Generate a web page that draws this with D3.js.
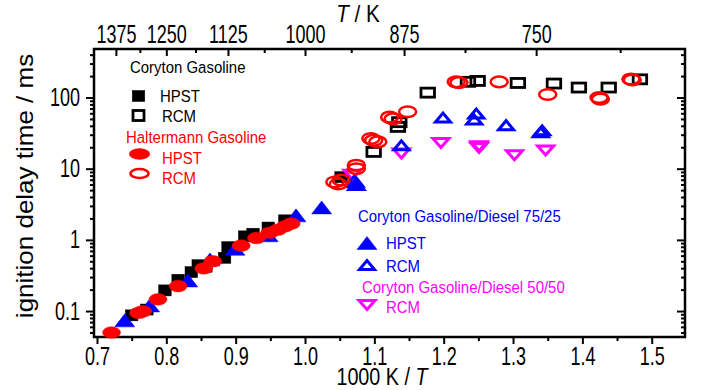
<!DOCTYPE html>
<html>
<head>
<meta charset="utf-8">
<script src="https://cdn.jsdelivr.net/npm/d3@7"></script>
<style>
  body { margin: 0; background: #fff; }
  svg { display: block; font-family: "Liberation Sans", Arial, sans-serif; }
</style>
</head>
<body>
<div id="chart"></div>
<script>
// data: [1000 K / T, ignition delay time (ms)]
const corytonHpst = [
  [0.750, 0.087], [0.772, 0.105], [0.798, 0.195], [0.817, 0.275], [0.836, 0.352],
  [0.846, 0.44], [0.857, 0.42], [0.884, 0.56], [0.889, 0.79], [0.913, 1.12],
  [0.925, 1.22], [0.947, 1.49], [0.971, 1.88], [1.052, 7.6]
];
const corytonRcm = [
  [1.099, 17.2], [1.134, 38.6], [1.136, 45], [1.177, 117], [1.235, 166],
  [1.249, 171], [1.307, 160], [1.359, 157], [1.395, 138], [1.438, 138], [1.483, 180]
];
const haltermannHpst = [
  [0.721, 0.050], [0.760, 0.094], [0.766, 0.099], [0.788, 0.146], [0.817, 0.224],
  [0.854, 0.397], [0.867, 0.50], [0.908, 0.83], [0.930, 1.06], [0.949, 1.26],
  [0.961, 1.39], [0.971, 1.55], [0.980, 1.69]
];
const haltermannRcm = [
  [1.043, 6.5], [1.052, 6.9], [1.048, 6.1], [1.074, 11.2], [1.074, 10.0],
  [1.095, 26.5], [1.099, 25], [1.105, 23.8], [1.122, 53], [1.127, 50],
  [1.148, 63], [1.218, 166], [1.222, 162], [1.280, 166], [1.350, 110],
  [1.424, 100], [1.426, 95], [1.470, 182], [1.472, 176]
];
const blend75Hpst = [
  [0.740, 0.074], [0.776, 0.12], [0.831, 0.269], [0.863, 0.53], [0.899, 0.75],
  [0.947, 1.16], [0.987, 2.21], [1.024, 2.86], [1.073, 6.6]
];
const blend75Rcm = [
  [1.074, 5.9], [1.071, 6.8], [1.139, 21.3], [1.199, 52.3], [1.247, 59.6],
  [1.244, 49], [1.290, 40.8], [1.342, 34.6], [1.340, 32.5]
];
const blend50Rcm = [
  [1.068, 8.2], [1.139, 16.3], [1.196, 23.0], [1.251, 20.6], [1.251, 19.5],
  [1.302, 15.4], [1.347, 18]
];

// tick labels
const xTicks = [0.7, 0.8, 0.9, 1.0, 1.1, 1.2, 1.3, 1.4, 1.5];
const xMinor = [0.75, 0.85, 0.95, 1.05, 1.15, 1.25, 1.35, 1.45];
const tTicks = [1375, 1250, 1125, 1000, 875, 750];
const tMinor = [1312.5, 1187.5, 1062.5, 937.5, 812.5, 687.5];
const yTicks = [0.1, 1, 10, 100];

const W = 728, H = 390;
const pLeft = 94, pRight = 685, pTop = 49, pBottom = 337;

const svg = d3.select("#chart").append("svg")
  .attr("width", W).attr("height", H);

const x = d3.scaleLinear().domain([0.6957, 1.548]).range([pLeft, pRight]);
const y = d3.scaleLog().domain([0.0432, 480]).range([pBottom, pTop]);

const yMinor = [];
[0.01, 0.1, 1, 10, 100].forEach(d => {
  for (let k = 2; k <= 9; k++) {
    const v = d * k;
    if (v > 0.0432 && v < 480) yMinor.push(v);
  }
});

// axes
function cleanAxis(g, k, fontSize) {
  g.select(".domain").remove();
  g.selectAll(".tick line").attr("stroke", "#000").attr("stroke-width", 2);
  g.selectAll(".tick text")
    .attr("fill", "#000")
    .style("font-size", fontSize + "px")
    .attr("transform", `scale(${k},1)`);
}

// bottom
const bx = svg.append("g").attr("transform", `translate(0,${pBottom})`)
  .call(d3.axisBottom(x).tickValues(xTicks).tickFormat(d3.format(".1f"))
    .tickSize(7).tickPadding(3).tickSizeOuter(0));
cleanAxis(bx, 0.72, 25);
svg.append("g").attr("transform", `translate(0,${pBottom})`)
  .call(d3.axisBottom(x).tickValues(xMinor).tickFormat("").tickSize(4).tickSizeOuter(0))
  .call(g => cleanAxis(g, 1, 10));

// top (temperature)
const tx = svg.append("g").attr("transform", `translate(0,${pTop})`)
  .call(d3.axisTop(x).tickValues(tTicks.map(t => 1000 / t))
    .tickFormat(d => Math.round(1000 / d)).tickSize(-7).tickPadding(6).tickSizeOuter(0));
cleanAxis(tx, 0.72, 25);
svg.append("g").attr("transform", `translate(0,${pTop})`)
  .call(d3.axisTop(x).tickValues(tMinor.map(t => 1000 / t)).tickFormat("").tickSize(-4).tickSizeOuter(0))
  .call(g => cleanAxis(g, 1, 10));

// left
const ly = svg.append("g").attr("transform", `translate(${pLeft},0)`)
  .call(d3.axisLeft(y).tickValues(yTicks).tickFormat(d => d < 1 ? d3.format(".1f")(d) : d3.format("d")(d))
    .tickSize(8).tickPadding(6).tickSizeOuter(0));
cleanAxis(ly, 0.72, 25);
ly.selectAll(".tick text").attr("x", -14 / 0.72);
svg.append("g").attr("transform", `translate(${pLeft},0)`)
  .call(d3.axisLeft(y).tickValues(yMinor).tickFormat("").tickSize(4).tickSizeOuter(0))
  .call(g => cleanAxis(g, 1, 10));

// right
svg.append("g").attr("transform", `translate(${pRight},0)`)
  .call(d3.axisRight(y).tickValues(yTicks).tickFormat("").tickSize(-8).tickSizeOuter(0))
  .call(g => cleanAxis(g, 1, 10));
svg.append("g").attr("transform", `translate(${pRight},0)`)
  .call(d3.axisRight(y).tickValues(yMinor).tickFormat("").tickSize(-4).tickSizeOuter(0))
  .call(g => cleanAxis(g, 1, 10));

// frame
svg.append("rect")
  .attr("x", pLeft).attr("y", pTop)
  .attr("width", pRight - pLeft).attr("height", pBottom - pTop)
  .attr("fill", "none").attr("stroke", "#000").attr("stroke-width", 2.5);

// text helper, squeezed horizontally like the source figure
function label(px, py, opts) {
  const o = Object.assign({ size: 17, k: 0.88, color: "#000", anchor: "start", rotate: 0 }, opts);
  return svg.append("text")
    .attr("transform", `translate(${px},${py}) rotate(${o.rotate}) scale(${o.k},1)`)
    .attr("text-anchor", o.anchor)
    .style("font-size", o.size + "px")
    .attr("fill", o.color);
}

// axis titles
label(382, 385, { size: 23, k: 0.86, anchor: "middle" })
  .call(t => {
    t.append("tspan").text("1000 K / ");
    t.append("tspan").style("font-style", "italic").text("T");
  });
label(358, 22, { size: 23, k: 0.9, anchor: "middle" })
  .call(t => {
    t.append("tspan").style("font-style", "italic").text("T");
    t.append("tspan").text(" / K");
  });
label(33, 186, { size: 26, anchor: "middle" })
  .attr("transform", "translate(33,186) rotate(-90) scale(1,0.9)")
  .text("ignition delay time / ms");

// markers
const BLACK = "#000", RED = "#ff0000", BLUE = "#0000ff", MAGENTA = "#ff00ff";

function triUp(cx, cy, w, h) {
  return `M${cx - w / 2},${cy + h / 2}L${cx + w / 2},${cy + h / 2}L${cx},${cy - h / 2}Z`;
}
function triDown(cx, cy, w, h) {
  return `M${cx - w / 2},${cy - h / 2}L${cx + w / 2},${cy - h / 2}L${cx},${cy + h / 2}Z`;
}

function marker(g, shape, cx, cy, color, filled) {
  if (shape === "square") {
    const w = filled ? 12.5 : 13.5, h = filled ? 11 : 9;
    g.append("rect")
      .attr("x", cx - w / 2).attr("y", cy - h / 2)
      .attr("width", w).attr("height", h)
      .attr("fill", filled ? color : "none")
      .attr("stroke", color).attr("stroke-width", filled ? 0.5 : 2.8);
  } else if (shape === "ellipse") {
    g.append("ellipse")
      .attr("cx", cx).attr("cy", cy)
      .attr("rx", filled ? 9 : 8.5).attr("ry", filled ? 5.8 : 5.3)
      .attr("fill", filled ? color : "none")
      .attr("stroke", color).attr("stroke-width", filled ? 0.5 : 2.5);
  } else if (shape === "up") {
    g.append("path")
      .attr("d", filled ? triUp(cx, cy, 20, 13) : triUp(cx, cy, 15, 9))
      .attr("fill", filled ? color : "none")
      .attr("stroke", color).attr("stroke-width", filled ? 0.5 : 3);
  } else if (shape === "down") {
    g.append("path")
      .attr("d", triDown(cx, cy, 16, 9))
      .attr("fill", filled ? color : "none")
      .attr("stroke", color).attr("stroke-width", 3);
  }
}

const series = [
  { data: corytonHpst, shape: "square", color: BLACK, filled: true },
  { data: blend75Hpst, shape: "up", color: BLUE, filled: true },
  { data: corytonRcm, shape: "square", color: BLACK, filled: false },
  { data: blend50Rcm, shape: "down", color: MAGENTA, filled: false },
  { data: blend75Rcm, shape: "up", color: BLUE, filled: false },
  { data: haltermannHpst, shape: "ellipse", color: RED, filled: true },
  { data: haltermannRcm, shape: "ellipse", color: RED, filled: false }
];

const marks = svg.append("g");
series.forEach(s => {
  s.data.forEach(d => marker(marks, s.shape, x(d[0]), y(d[1]), s.color, s.filled));
});

// legends
const leg = svg.append("g");
label(130, 73).text("Coryton Gasoline");
marker(leg, "square", 138.5, 96, BLACK, true);
label(160, 102).text("HPST");
leg.append("rect").attr("x", 133).attr("y", 110.5).attr("width", 11).attr("height", 10)
  .attr("fill", "none").attr("stroke", BLACK).attr("stroke-width", 2.8);
label(162, 122).text("RCM");

label(126, 143, { color: RED }).text("Haltermann Gasoline");
leg.append("ellipse").attr("cx", 139.5).attr("cy", 154).attr("rx", 10.5).attr("ry", 5.8).attr("fill", RED);
label(162, 164, { color: RED }).text("HPST");
leg.append("ellipse").attr("cx", 139.5).attr("cy", 173.5).attr("rx", 9).attr("ry", 4.5)
  .attr("fill", "none").attr("stroke", RED).attr("stroke-width", 2.5);
label(162, 184, { color: RED }).text("RCM");

label(358, 222, { color: BLUE }).text("Coryton Gasoline/Diesel 75/25");
marker(leg, "up", 367, 243, BLUE, true);
label(386, 249, { color: BLUE }).text("HPST");
marker(leg, "up", 367, 265, BLUE, false);
label(386, 272, { color: BLUE }).text("RCM");

label(362, 293, { color: MAGENTA }).text("Coryton Gasoline/Diesel 50/50");
marker(leg, "down", 367, 305, MAGENTA, false);
label(386, 313, { color: MAGENTA }).text("RCM");
</script>
</body>
</html>
